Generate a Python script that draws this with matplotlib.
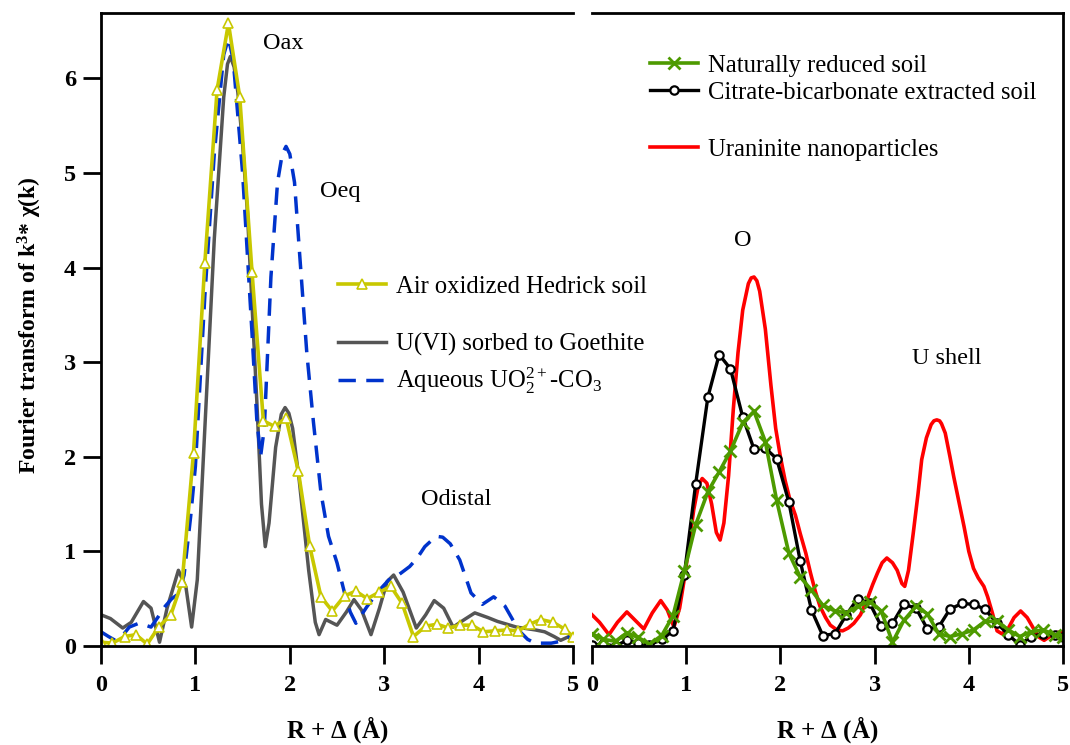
import matplotlib
matplotlib.use("Agg")
import matplotlib.pyplot as plt
from matplotlib.lines import Line2D

plt.rcParams['font.family'] = ['Liberation Serif', 'DejaVu Serif']
plt.rcParams['mathtext.fontset'] = 'custom'
plt.rcParams['mathtext.rm'] = 'Liberation Serif'
plt.rcParams['mathtext.it'] = 'Liberation Serif:italic'
plt.rcParams['mathtext.bf'] = 'Liberation Serif:bold'

# ---- left panel: U(VI) references ----
# Air oxidized Hedrick soil (markers every 4th R point)
r_air = [0.00, 0.12, 0.25, 0.37, 0.49, 0.61, 0.74, 0.86, 0.98, 1.10, 1.23, 1.35,
         1.47, 1.60, 1.72, 1.84, 1.96, 2.09, 2.21, 2.33, 2.45, 2.58, 2.70, 2.82,
         2.95, 3.07, 3.19, 3.31, 3.44, 3.56, 3.68, 3.80, 3.93, 4.05, 4.17, 4.30,
         4.42, 4.54, 4.66, 4.79, 4.91, 5.00]
ft_air = [0.04, 0.03, 0.10, 0.12, 0.02, 0.20, 0.33, 0.68, 2.04, 4.05, 5.88, 6.58,
          5.80, 3.95, 2.38, 2.32, 2.41, 1.85, 1.06, 0.52, 0.37, 0.53, 0.58, 0.50,
          0.57, 0.63, 0.45, 0.10, 0.21, 0.23, 0.19, 0.22, 0.22, 0.15, 0.16, 0.17,
          0.16, 0.23, 0.28, 0.25, 0.18, 0.10]

# U(VI) sorbed to goethite
r_goe = [0.00, 0.10, 0.23, 0.32, 0.45, 0.53, 0.58, 0.62, 0.70, 0.82, 0.90, 0.96,
         1.02, 1.10, 1.20, 1.30, 1.34, 1.37, 1.41, 1.45, 1.50, 1.55, 1.60, 1.65,
         1.70, 1.74, 1.78, 1.85, 1.91, 1.95, 1.99, 2.03, 2.10, 2.20, 2.27, 2.31,
         2.38, 2.50, 2.60, 2.68, 2.76, 2.86, 2.95, 3.03, 3.10, 3.20, 3.34, 3.44,
         3.53, 3.63, 3.73, 3.85, 3.96, 4.10, 4.20, 4.40, 4.60, 4.70, 4.80, 4.87,
         5.00]
ft_goe = [0.33, 0.29, 0.19, 0.25, 0.47, 0.40, 0.20, 0.04, 0.40, 0.80, 0.62, 0.20,
          0.70, 2.30, 4.30, 5.80, 6.15, 6.23, 6.12, 5.85, 5.30, 4.60, 3.60, 2.60,
          1.50, 1.05, 1.30, 2.10, 2.45, 2.52, 2.46, 2.30, 1.75, 0.80, 0.25, 0.12,
          0.28, 0.22, 0.36, 0.49, 0.38, 0.12, 0.40, 0.68, 0.75, 0.57, 0.19, 0.33,
          0.48, 0.40, 0.20, 0.28, 0.35, 0.30, 0.26, 0.20, 0.17, 0.15, 0.10, 0.06,
          0.12]

# Aqueous UO2(2+)-CO3
r_aq = [0.00, 0.08, 0.15, 0.22, 0.30, 0.40, 0.47, 0.53, 0.60, 0.68, 0.75, 0.82,
        0.88, 0.95, 1.00, 1.10, 1.20, 1.30, 1.35, 1.40, 1.50, 1.60, 1.65, 1.69,
        1.73, 1.80, 1.87, 1.92, 1.96, 2.00, 2.05, 2.10, 2.18, 2.25, 2.33, 2.41,
        2.50, 2.58, 2.64, 2.70, 2.82, 2.94, 3.05, 3.15, 3.27, 3.35, 3.43, 3.55,
        3.62, 3.70, 3.80, 3.92, 4.04, 4.16, 4.28, 4.36, 4.44, 4.52, 4.60, 4.77,
        4.87, 5.00]
ft_aq = [0.15, 0.10, 0.06, 0.10, 0.20, 0.24, 0.22, 0.20, 0.30, 0.42, 0.50, 0.55,
         0.75, 1.37, 1.90, 3.70, 5.20, 6.25, 6.42, 6.20, 5.00, 3.30, 2.40, 2.00,
         2.30, 3.90, 4.90, 5.20, 5.28, 5.20, 4.90, 4.20, 3.10, 2.37, 1.62, 1.16,
         0.88, 0.56, 0.36, 0.24, 0.42, 0.58, 0.70, 0.75, 0.84, 0.93, 1.05, 1.16,
         1.15, 1.08, 0.91, 0.56, 0.44, 0.52, 0.42, 0.28, 0.15, 0.07, 0.03, 0.03,
         0.05, 0.11]

# ---- right panel: reduced samples ----
# Naturally reduced soil
r_nat = [0.00, 0.12, 0.25, 0.37, 0.49, 0.61, 0.74, 0.86, 0.98, 1.10, 1.23, 1.35,
         1.47, 1.60, 1.72, 1.84, 1.96, 2.09, 2.21, 2.33, 2.45, 2.58, 2.70, 2.82,
         2.95, 3.07, 3.19, 3.31, 3.44, 3.56, 3.68, 3.80, 3.93, 4.05, 4.17, 4.30,
         4.42, 4.54, 4.66, 4.79, 4.91, 5.00]
ft_nat = [0.13, 0.07, 0.05, 0.14, 0.09, 0.02, 0.11, 0.32, 0.79, 1.28, 1.63, 1.84,
          2.06, 2.36, 2.48, 2.16, 1.54, 0.98, 0.73, 0.59, 0.43, 0.37, 0.35, 0.42,
          0.47, 0.37, 0.04, 0.27, 0.42, 0.34, 0.13, 0.10, 0.13, 0.17, 0.26, 0.26,
          0.17, 0.10, 0.15, 0.17, 0.12, 0.10]

# Citrate-bicarbonate extracted soil
r_cit = [0.00, 0.12, 0.25, 0.37, 0.49, 0.61, 0.74, 0.86, 0.98, 1.10, 1.23, 1.35,
         1.47, 1.60, 1.72, 1.84, 1.96, 2.09, 2.21, 2.33, 2.45, 2.58, 2.70, 2.82,
         2.95, 3.07, 3.19, 3.31, 3.44, 3.56, 3.68, 3.80, 3.93, 4.05, 4.17, 4.30,
         4.42, 4.54, 4.66, 4.79, 4.91, 5.00]
ft_cit = [0.01, 0.02, 0.00, 0.06, 0.03, 0.01, 0.07, 0.16, 0.75, 1.71, 2.63, 3.08,
          2.93, 2.42, 2.08, 2.09, 1.98, 1.52, 0.90, 0.38, 0.11, 0.13, 0.33, 0.50,
          0.45, 0.21, 0.24, 0.44, 0.40, 0.18, 0.20, 0.39, 0.45, 0.44, 0.39, 0.24,
          0.12, 0.01, 0.10, 0.13, 0.12, 0.10]

# Uraninite nanoparticles
r_urn = [0.00, 0.08, 0.18, 0.27, 0.37, 0.46, 0.55, 0.64, 0.73, 0.80, 0.87, 0.93,
         0.99, 1.04, 1.08, 1.13, 1.17, 1.22, 1.27, 1.32, 1.36, 1.40, 1.45, 1.50,
         1.55, 1.60, 1.66, 1.69, 1.72, 1.75, 1.78, 1.84, 1.90, 1.95, 2.00, 2.05,
         2.10, 2.16, 2.21, 2.27, 2.32, 2.37, 2.42, 2.48, 2.53, 2.60, 2.66, 2.72,
         2.78, 2.85, 2.92, 2.98, 3.03, 3.08, 3.13, 3.19, 3.24, 3.29, 3.32, 3.36,
         3.41, 3.46, 3.50, 3.55, 3.60, 3.63, 3.66, 3.69, 3.71, 3.75, 3.80, 3.84,
         3.90, 3.95, 4.00, 4.05, 4.10, 4.16, 4.20, 4.25, 4.30, 4.35, 4.41, 4.48,
         4.55, 4.62, 4.69, 4.75, 4.80, 4.86, 4.92, 5.00]
ft_urn = [0.33, 0.25, 0.12, 0.25, 0.36, 0.27, 0.18, 0.35, 0.48, 0.38, 0.20, 0.40,
          0.77, 1.15, 1.44, 1.70, 1.77, 1.72, 1.50, 1.20, 1.12, 1.30, 1.80, 2.50,
          3.10, 3.55, 3.83, 3.89, 3.90, 3.86, 3.75, 3.35, 2.75, 2.30, 2.00, 1.75,
          1.55, 1.38, 1.19, 0.98, 0.77, 0.58, 0.42, 0.30, 0.22, 0.17, 0.16, 0.19,
          0.24, 0.33, 0.49, 0.65, 0.77, 0.88, 0.93, 0.88, 0.80, 0.66, 0.63, 0.80,
          1.19, 1.60, 1.97, 2.20, 2.34, 2.38, 2.39, 2.38, 2.35, 2.25, 2.00, 1.79,
          1.50, 1.26, 1.00, 0.82, 0.72, 0.63, 0.52, 0.35, 0.16, 0.13, 0.17, 0.30,
          0.37, 0.30, 0.18, 0.09, 0.06, 0.10, 0.14, 0.15]

x_ticks = [0, 1, 2, 3, 4, 5]
y_ticks = [0, 1, 2, 3, 4, 5, 6]

c_air = '#c8c800'
c_goe = '#555555'
c_aq = '#0033cc'
c_nat = '#4d9a00'
c_cit = '#000000'
c_urn = '#ff0000'

W, H = 1070, 745
fig = plt.figure(figsize=(W / 100, H / 100), dpi=100)
ax1 = fig.add_axes([101 / W, 1 - 646 / H, 472 / W, 633 / H])
ax2 = fig.add_axes([592 / W, 1 - 646 / H, 471 / W, 633 / H])

# left panel curves
ax1.plot(r_goe, ft_goe, color=c_goe, lw=2.5)
ax1.plot(r_aq, ft_aq, color=c_aq, lw=2.5, linestyle=(0, (5, 3)))
ax1.plot(r_air, ft_air, color=c_air, lw=2.6, marker='^', ms=7,
         mfc='white', mec=c_air, mew=1.2)

# right panel curves
ax2.plot(r_urn, ft_urn, color=c_urn, lw=2.6)
ax2.plot(r_cit, ft_cit, color=c_cit, lw=2.4, marker='o', ms=6,
         mfc='white', mec=c_cit, mew=1.6)
ax2.plot(r_nat, ft_nat, color=c_nat, lw=2.6, marker='x', ms=9,
         mec=c_nat, mew=2.0)

for ax in (ax1, ax2):
    ax.set_xlim(0, 5)
    ax.set_ylim(0, 6.69)
    ax.set_xticks(x_ticks)
    ax.tick_params(axis='x', direction='out', length=13, width=2, pad=8,
                   labelsize=17.5)
    for lab in ax.get_xticklabels():
        lab.set_fontweight('bold')
    for s in ax.spines.values():
        s.set_linewidth(2)

ax1.set_yticks(y_ticks)
ax1.tick_params(axis='y', direction='out', length=13, width=2, pad=5,
                labelsize=17.5)
for lab in ax1.get_yticklabels():
    lab.set_fontweight('bold')
ax1.spines['right'].set_visible(False)

ax2.set_yticks([])
ax2.spines['left'].set_visible(False)

# peak annotations
ax1.text(1.93, 6.37, 'Oax', fontsize=17.5, ha='center', va='center')
ax1.text(2.53, 4.80, 'Oeq', fontsize=17.5, ha='center', va='center')
ax1.text(3.76, 1.55, 'Odistal', fontsize=17.5, ha='center', va='center')
ax2.text(1.60, 4.29, 'O', fontsize=17.5, ha='center', va='center')
ax2.text(3.77, 3.04, 'U shell', fontsize=17.5, ha='center', va='center')

# axis labels
fig.text(337 / W, 1 - 730 / H, r'R + $\mathbf{\Delta}$ (Å)', fontsize=18,
         fontweight='bold', ha='center', va='center')
fig.text(827 / W, 1 - 730 / H, r'R + $\mathbf{\Delta}$ (Å)', fontsize=18,
         fontweight='bold', ha='center', va='center')
fig.text(30 / W, 1 - 325 / H, r'Fourier transform of k$^{\mathbf{3}}$* χ(k)',
         fontsize=17, fontweight='bold', rotation=90, ha='center', va='center')

# legends, one entry at a time so the spacing can follow the original
entries = [
    (Line2D([], [], color=c_air, lw=2.6, marker='^', ms=7, mfc='white',
            mec=c_air, mew=1.2), 'Air oxidized Hedrick soil', 338, 287),
    (Line2D([], [], color=c_goe, lw=2.5), 'U(VI) sorbed to Goethite', 338, 344),
    (Line2D([], [], color=c_aq, lw=2.5, linestyle=(0, (5, 3))),
     r'Aqueous UO$_2^{2+}$-CO$_3$', 338, 381),
    (Line2D([], [], color=c_nat, lw=2.6, marker='x', ms=9, mew=2.0),
     'Naturally reduced soil', 650, 66),
    (Line2D([], [], color=c_cit, lw=2.4, marker='o', ms=6, mfc='white',
            mec=c_cit, mew=1.6), 'Citrate-bicarbonate extracted soil', 650, 93),
    (Line2D([], [], color=c_urn, lw=2.6), 'Uraninite nanoparticles', 650, 150),
]
for handle, label, xp, yp in entries:
    fig.legend(handles=[handle], labels=[label], loc='center left',
               bbox_to_anchor=(xp / W, 1 - yp / H), frameon=False,
               borderpad=0, borderaxespad=0, handlelength=1.96,
               handletextpad=0.4, fontsize=17.7, numpoints=1)

fig.savefig('out.png', dpi=100)
